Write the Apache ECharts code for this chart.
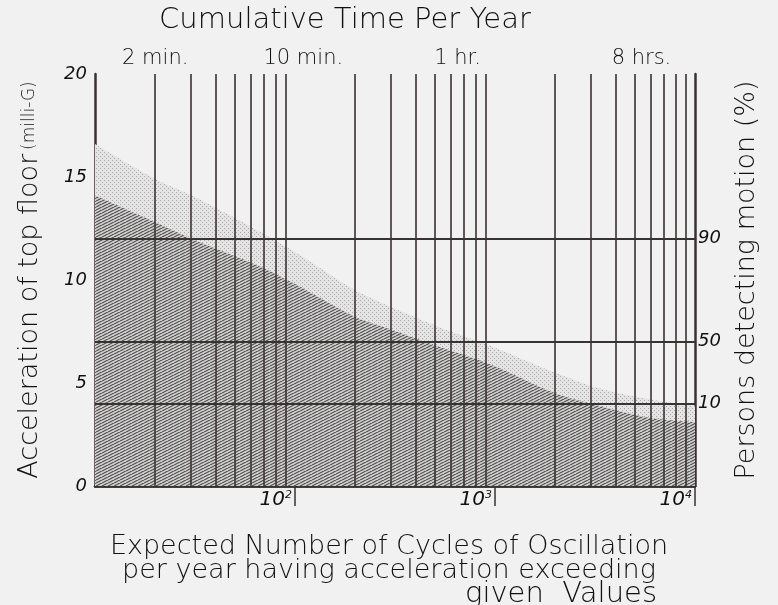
<!DOCTYPE html>
<html><head><meta charset="utf-8">
<script src="https://cdn.jsdelivr.net/npm/echarts@6/dist/echarts.min.js"></script>
<style>html,body{margin:0;padding:0;background:#f1f1f1;}#c{width:778px;height:605px;}</style>
</head><body><div id="c"></div>
<script>
// ---- data ----
const yTicks = [0, 5, 10, 15, 20];
const cycleTickValues = [100, 1000, 10000];
const cycleTickExp = ['2', '3', '4'];
const cycleGridLines = [20,30,40,50,60,70,80,90,200,300,400,500,600,700,800,900,2000,3000,4000,5000,6000,7000,8000,9000];
const timeLabels = ['2 min.', '10 min.', '1 hr.', '8 hrs.'];
const timeCycles = [20, 110, 650, 5400];
const personsLabels = ['10', '50', '90'];
const personsAccel = [4, 7, 12];
// lower (dark hatched) boundary: [cycles, acceleration milli-G]
const darkCycles = [10, 20, 32, 65, 100, 200, 300, 530, 950, 2000, 3300, 6000, 10000];
const darkAccel  = [14.1, 12.8, 11.9, 10.7, 9.8, 8.2, 7.6, 6.75, 5.9, 4.5, 3.9, 3.3, 3.1];
// upper (light dotted) boundary
const bandCycles = [10, 20, 32, 65, 106, 200, 300, 530, 950, 2000, 3300, 6000, 10000];
const bandAccel  = [16.6, 14.9, 14.0, 12.4, 11.2, 9.5, 8.7, 7.7, 6.8, 5.5, 4.75, 4.2, 3.9];

// ---- patterns ----
function hatch(){
  const c = document.createElement('canvas'); c.width = 6; c.height = 3;
  const g = c.getContext('2d');
  g.fillStyle = '#cfcfcf'; g.fillRect(0,0,6,3);
  g.strokeStyle = '#4a4545'; g.lineWidth = 1.1;
  for (const dx of [-6, 0, 6]) { g.beginPath(); g.moveTo(dx, 3); g.lineTo(dx + 6, 0); g.stroke(); }
  return c;
}
function dots(){
  const c = document.createElement('canvas'); c.width = 4; c.height = 4;
  const g = c.getContext('2d');
  g.fillStyle = '#e4e4e4'; g.fillRect(0,0,4,4);
  g.fillStyle = '#a9a9a9'; g.fillRect(0,0,1,1); g.fillRect(2,2,1,1);
  return c;
}

const ink = '#3a3232';
const txt = '#111';
const font = 'DejaVu Sans';
const fw = 200;
const chart = echarts.init(document.getElementById('c'), null, {renderer:'canvas'});
const pair = (xs, ys) => xs.map((x, i) => [x, ys[i]]);

chart.setOption({
  backgroundColor: '#f1f1f1',
  animation: false,
  textStyle: {fontFamily: font, color: txt},
  title: [
    {text: 'Cumulative Time Per Year', left: 340, top: 1, textAlign: 'center',
     textStyle: {fontFamily: font, fontWeight: fw, fontSize: 29, color: txt}},
    {text: 'Expected Number of Cycles of Oscillation\nper year having acceleration exceeding',
     left: 384, top: 530, textAlign: 'center',
     textStyle: {fontFamily: font, fontWeight: fw, fontSize: 27, lineHeight: 24, color: txt}},
    {text: 'given  Values', left: 652, top: 575, textAlign: 'right',
     textStyle: {fontFamily: font, fontWeight: fw, fontSize: 29, color: txt}}
  ],
  grid: {left: 95, right: 83, top: 74, bottom: 119, show: false},
  xAxis: [
    {type: 'log', logBase: 10, min: 10, max: 10000, position: 'bottom',
     axisLine: {show: true, lineStyle: {color: ink, width: 2.5}},
     axisTick: {show: true, customValues: cycleTickValues, length: 20, lineStyle: {color: ink, width: 1.5}},
     axisLabel: {show: true, customValues: cycleTickValues, margin: 4, align: 'right',
       padding: [0, 3, 0, 0],
       formatter: v => { const i = cycleTickValues.indexOf(Math.round(v)); return i < 0 ? '' : '{b|10}{s|' + cycleTickExp[i] + '}'; },
       rich: {b: {fontFamily: font, fontWeight: fw, fontSize: 20, fontStyle: 'italic', color: txt},
              s: {fontFamily: font, fontWeight: fw, fontSize: 11, fontStyle: 'italic', color: txt, verticalAlign: 'top', padding: [0,0,8,0]}}},
     splitLine: {show: false}},
    {type: 'log', logBase: 10, min: 10, max: 10000, position: 'top',
     axisLine: {show: true, lineStyle: {color: ink, width: 2.5}},
     axisTick: {show: false},
     axisLabel: {show: true, customValues: timeCycles, margin: 5,
       formatter: v => { let best = 0; timeCycles.forEach((t, i) => { if (Math.abs(Math.log(t) - Math.log(v)) < Math.abs(Math.log(timeCycles[best]) - Math.log(v))) best = i; }); return timeLabels[best]; },
       fontFamily: font, fontWeight: fw, fontSize: 21, color: txt},
     splitLine: {show: false}},
  ],
  yAxis: [
    {type: 'value', min: 0, max: 20, interval: 5, position: 'left',
     name: '{m|Acceleration of top floor} {p|(milli-G)}', nameLocation: 'middle', nameGap: 52, nameRotate: 90,
     nameTextStyle: {rich: {m: {fontFamily: font, fontWeight: fw, fontSize: 27, color: txt},
                            p: {fontFamily: font, fontWeight: fw, fontSize: 17, color: txt}}},
     axisLine: {show: true, lineStyle: {color: ink, width: 2.5}},
     axisTick: {show: false},
     axisLabel: {margin: 8, fontFamily: font, fontWeight: fw, fontStyle: 'italic', fontSize: 18, color: txt},
     splitLine: {show: false}},
    {type: 'value', min: 0, max: 20, position: 'right',
     name: 'Persons detecting motion (%)', nameLocation: 'middle', nameGap: 38, nameRotate: 90,
     nameTextStyle: {fontFamily: font, fontWeight: fw, fontSize: 27, color: txt},
     axisLine: {show: true, lineStyle: {color: ink, width: 2.5}},
     axisTick: {show: false},
     axisLabel: {show: true, customValues: personsAccel, margin: 3,
       formatter: v => { const i = personsAccel.indexOf(Math.round(v)); return i < 0 ? '' : personsLabels[i]; },
       fontFamily: font, fontWeight: fw, fontStyle: 'italic', fontSize: 18, color: txt},
     splitLine: {show: false}}
  ],
  series: [
    {type: 'line', name: 'band', data: pair(bandCycles, bandAccel), smooth: 0.3, symbol: 'none', z: 1,
     lineStyle: {width: 0}, areaStyle: {color: {image: dots(), repeat: 'repeat'}, opacity: 1}},
    {type: 'line', name: 'dark', data: pair(darkCycles, darkAccel), smooth: 0.3, symbol: 'none', z: 2,
     lineStyle: {width: 0}, areaStyle: {color: {image: hatch(), repeat: 'repeat'}, opacity: 1}},
    {type: 'line', name: 'grid', data: [], z: 5, symbol: 'none',
     markLine: {silent: true, symbol: 'none', label: {show: false},
       lineStyle: {color: ink, width: 1.6, type: 'solid'},
       data: cycleGridLines.map(v => ({xAxis: v})).concat(personsAccel.map(v => ({yAxis: v, lineStyle: {width: 2.2}})))}}
  ]
});
</script></body></html>
